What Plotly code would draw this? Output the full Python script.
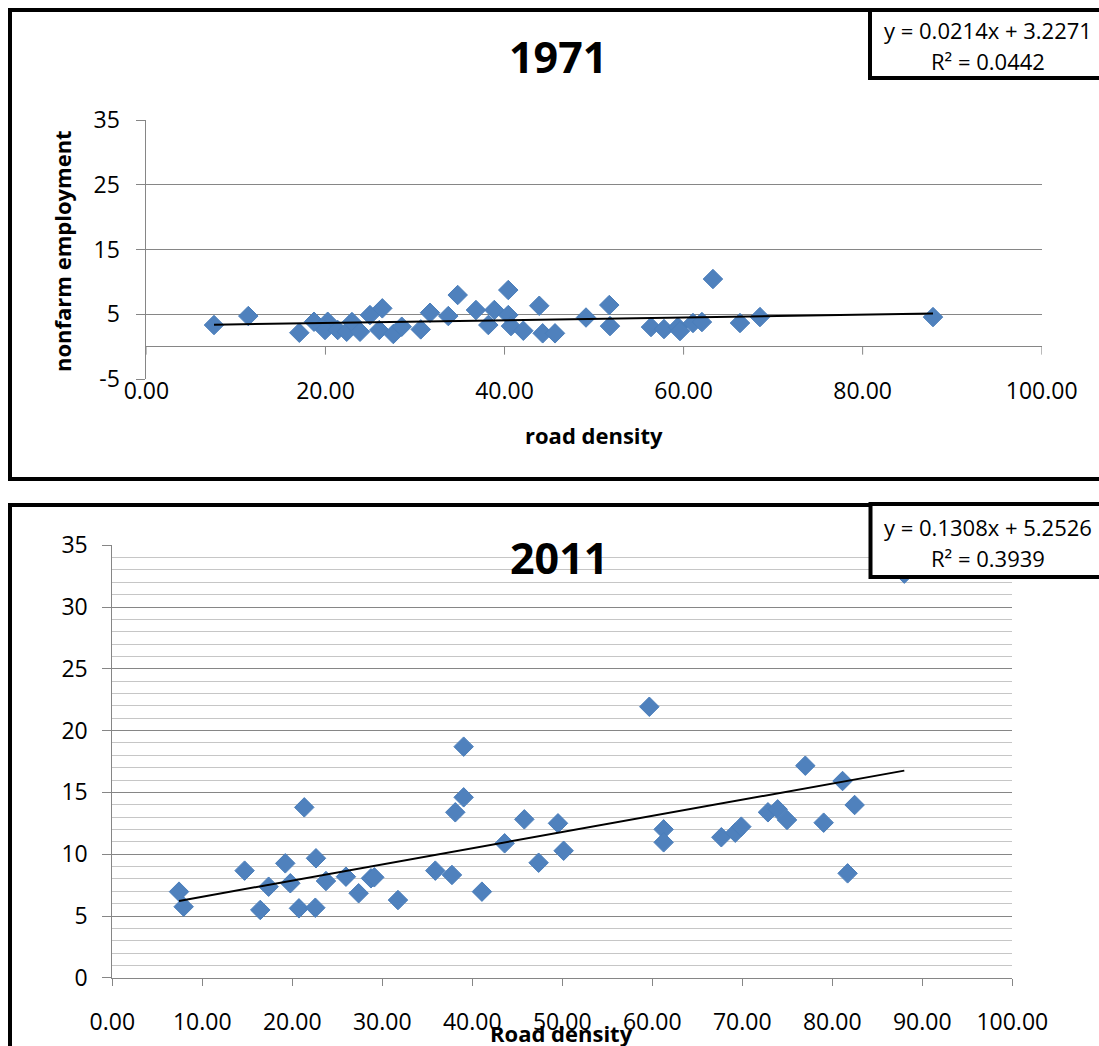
import plotly.graph_objects as go

W, H = 1099, 1046

# ---------------- data ----------------
years = ["1971", "2011"]

x_1971 = [7.55, 11.38, 17.08, 18.72, 20.25, 19.95, 21.37, 22.37, 22.96, 23.86,
          24.97, 26.01, 26.35, 27.58, 28.52, 30.64, 31.68, 33.72, 34.77, 36.81,
          38.19, 38.86, 40.42, 40.42, 40.72, 42.10, 43.88, 44.26, 45.64, 49.10,
          51.70, 51.78, 56.36, 57.81, 59.37, 59.60, 61.05, 62.05, 63.28, 66.30,
          68.53, 87.86]
y_1971 = [3.34, 4.73, 2.15, 3.85, 3.85, 2.57, 2.57, 2.30, 3.80, 2.30,
          4.88, 2.57, 5.92, 1.95, 3.08, 2.67, 5.24, 4.73, 7.98, 5.66,
          3.34, 5.66, 8.75, 4.88, 3.18, 2.46, 6.32, 2.06, 2.06, 4.50,
          6.43, 3.18, 3.03, 2.72, 3.03, 2.41, 3.65, 3.80, 10.45, 3.65,
          4.57, 4.57]

x_2011 = [7.41, 7.93, 14.70, 16.44, 17.37, 19.22, 19.78, 20.74, 21.33, 22.56,
          22.63, 23.74, 25.96, 27.37, 28.74, 29.11, 31.74, 35.89, 37.74, 38.11,
          39.04, 39.04, 41.07, 43.59, 45.78, 47.37, 49.52, 50.15, 59.67, 61.26,
          61.26, 67.67, 69.22, 69.89, 72.85, 73.93, 74.97, 77.00, 79.04, 81.14,
          81.70, 82.48, 88.00]
y_2011 = [6.97, 5.75, 8.67, 5.49, 7.37, 9.26, 7.65, 5.62, 13.79, 5.67,
          9.67, 7.83, 8.18, 6.84, 8.05, 8.13, 6.29, 8.67, 8.32, 13.39,
          18.70, 14.60, 6.97, 10.88, 12.82, 9.31, 12.50, 10.28, 21.93, 12.01,
          10.96, 11.37, 11.74, 12.23, 13.39, 13.63, 12.77, 17.16, 12.55, 15.92,
          8.45, 13.98, 32.70]

slopes = [0.0214, 0.1308]
intercepts = [3.2271, 5.2526]
r_squared = [0.0442, 0.3939]

x_ticks_top = [0, 20, 40, 60, 80, 100]
y_ticks_top = [-5, 5, 15, 25, 35]
x_ticks_bot = [0, 10, 20, 30, 40, 50, 60, 70, 80, 90, 100]
y_ticks_bot = [0, 5, 10, 15, 20, 25, 30, 35]

x_title_top = "road density"
x_title_bot = "Road density"
y_title_top = "nonfarm employment"

# ---------------- helpers ----------------
def px(v):
    return v / W


def py(v):
    return 1 - v / H


FONT = "Open Sans"
BLUE = "#4F81BD"
GRID = "#868686"
MINOR = "#C6C6C6"

marker = dict(symbol="diamond", size=15, color=BLUE,
              line=dict(width=1, color="#4A7EBB"))

fig = go.Figure()

series = [(x_1971, y_1971, "x", "y"), (x_2011, y_2011, "x2", "y2")]
for i, (xs, ys, xa, ya) in enumerate(series):
    fig.add_trace(go.Scatter(x=xs, y=ys, mode="markers", marker=marker,
                             xaxis=xa, yaxis=ya, showlegend=False,
                             hoverinfo="skip"))
    xl = [min(xs), max(xs)]
    yl = [slopes[i] * v + intercepts[i] for v in xl]
    fig.add_trace(go.Scatter(x=xl, y=yl, mode="lines",
                             line=dict(color="black", width=2),
                             xaxis=xa, yaxis=ya, showlegend=False,
                             hoverinfo="skip"))

tickfont = dict(family=FONT, size=23, color="black")

fig.update_layout(
    template="none",
    width=W, height=H, autosize=False,
    margin=dict(l=0, r=0, t=0, b=0, pad=0, autoexpand=False),
    paper_bgcolor="white", plot_bgcolor="white",
    font=dict(family=FONT, color="black"),
    xaxis=dict(domain=[px(146.4), px(1041.7)], range=[0, 100], anchor="y",
               automargin=False,
               tickmode="array", tickvals=x_ticks_top,
               ticktext=[f"{v:.2f}" for v in x_ticks_top],
               showgrid=False, zeroline=False, showline=False, ticks="",
               tickfont=tickfont, ticklabelstandoff=-4),
    yaxis=dict(domain=[py(379.0), py(120.2)], range=[-5, 35], anchor="x",
               automargin=False,
               tickmode="array", tickvals=y_ticks_top,
               ticktext=[str(v) for v in y_ticks_top],
               showgrid=True, gridcolor=GRID, gridwidth=1,
               zeroline=True, zerolinecolor=GRID, zerolinewidth=1,
               showline=True, linecolor=GRID, linewidth=1,
               ticks="outside", ticklen=9, tickcolor=GRID, tickwidth=1,
               tickfont=tickfont, ticklabelstandoff=12),
    xaxis2=dict(domain=[px(112.3), px(1012.3)], range=[0, 100], anchor="y2",
                automargin=False,
                tickmode="array", tickvals=x_ticks_bot,
                ticktext=[f"{v:.2f}" for v in x_ticks_bot],
                showgrid=False, zeroline=False,
                showline=True, linecolor=GRID, linewidth=1,
                ticks="outside", ticklen=7, tickcolor=GRID, tickwidth=1,
                tickfont=tickfont, ticklabelstandoff=17),
    yaxis2=dict(domain=[py(977.8), py(545.2)], range=[0, 35], anchor="x2",
                automargin=False,
                tickmode="array", tickvals=y_ticks_bot,
                ticktext=[str(v) for v in y_ticks_bot],
                showgrid=True, gridcolor=GRID, gridwidth=1,
                minor=dict(tickmode="linear", tick0=0, dtick=1, showgrid=True,
                           gridcolor=MINOR, gridwidth=1, ticks=""),
                zeroline=False,
                showline=True, linecolor=GRID, linewidth=1,
                ticks="outside", ticklen=9, tickcolor=GRID, tickwidth=1,
                tickfont=tickfont, ticklabelstandoff=10),
)

shapes = []
# tick marks on the top chart's horizontal axis (which crosses at y = 0)
for v in x_ticks_top:
    shapes.append(dict(type="line", xref="x", yref="y", x0=v, x1=v,
                       y0=0, y1=-8 / 6.47, line=dict(color=GRID, width=1),
                       layer="above"))
# outer chart frames
shapes.append(dict(type="rect", xref="paper", yref="paper",
                   x0=px(10), x1=px(1115), y0=py(479), y1=py(10),
                   line=dict(color="black", width=4), fillcolor="rgba(0,0,0,0)"))
shapes.append(dict(type="rect", xref="paper", yref="paper",
                   x0=px(10), x1=px(1115), y0=py(1065), y1=py(505),
                   line=dict(color="black", width=4), fillcolor="rgba(0,0,0,0)"))
# equation boxes
shapes.append(dict(type="rect", xref="paper", yref="paper",
                   x0=px(870), x1=px(1115), y0=py(78), y1=py(10),
                   line=dict(color="black", width=4), fillcolor="white",
                   layer="above"))
shapes.append(dict(type="rect", xref="paper", yref="paper",
                   x0=px(870.5), x1=px(1115), y0=py(577), y1=py(504),
                   line=dict(color="black", width=4), fillcolor="white",
                   layer="above"))
fig.update_layout(shapes=shapes)

ann = []
# chart titles
ann.append(dict(text=f"<b>{years[0]}</b>", x=px(558), y=py(57), xref="paper",
                yref="paper", showarrow=False, xanchor="center", yanchor="middle",
                font=dict(family=FONT, size=43, color="black")))
ann.append(dict(text=f"<b>{years[1]}</b>", x=px(559), y=py(557), xref="paper",
                yref="paper", showarrow=False, xanchor="center", yanchor="middle",
                font=dict(family=FONT, size=43, color="black")))
# axis titles
ann.append(dict(text=f"<b>{x_title_top}</b>", x=px(594), y=py(435),
                xref="paper", yref="paper", showarrow=False,
                xanchor="center", yanchor="middle",
                font=dict(family=FONT, size=22, color="black")))
ann.append(dict(text=f"<b>{x_title_bot}</b>", x=px(561), y=py(1033),
                xref="paper", yref="paper", showarrow=False,
                xanchor="center", yanchor="middle",
                font=dict(family=FONT, size=22, color="black")))
ann.append(dict(text=f"<b>{y_title_top}</b>", x=px(62), y=py(251),
                xref="paper", yref="paper", showarrow=False, textangle=-90,
                xanchor="center", yanchor="middle",
                font=dict(family=FONT, size=22, color="black")))
# trend-line equations
eq_pos = [(30, 61), (527, 558)]
for i in range(2):
    ann.append(dict(text=f"y = {slopes[i]:.4f}x + {intercepts[i]:.4f}",
                    x=px(988), y=py(eq_pos[i][0]), xref="paper", yref="paper",
                    showarrow=False, xanchor="center", yanchor="middle",
                    font=dict(family=FONT, size=22, color="black")))
    ann.append(dict(text=f"R² = {r_squared[i]:.4f}",
                    x=px(988), y=py(eq_pos[i][1]), xref="paper", yref="paper",
                    showarrow=False, xanchor="center", yanchor="middle",
                    font=dict(family=FONT, size=22, color="black")))
fig.update_layout(annotations=ann)

# remove the browser's default page margin so the figure sits at (0, 0)
fig.write_html("out.html",
               config={"displayModeBar": False, "staticPlot": True},
               post_script="document.body.style.margin='0';")
